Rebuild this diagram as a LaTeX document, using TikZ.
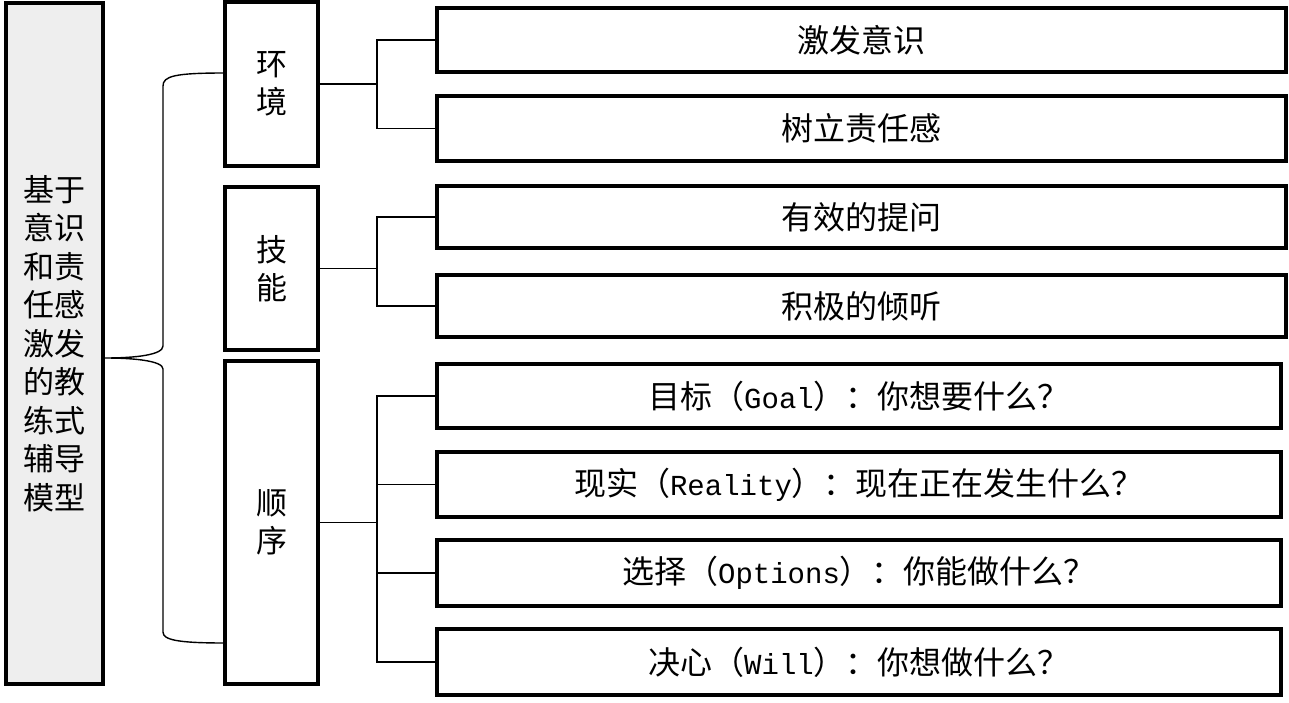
\documentclass[tikz,border=0pt]{standalone}
\usepackage{fontspec}
\setmainfont{Noto Sans CJK SC}
\newfontfamily\latinmono{Liberation Mono}
\newcommand{\lt}[1]{{\latinmono\fontsize{29}{30}\selectfont #1}}
\definecolor{lgray}{HTML}{EEEEEE}
\begin{document}
\begin{tikzpicture}[x=1pt,y=-1pt,
  box/.style={draw, line width=4pt, inner sep=0pt, align=center,
    font=\fontsize{31}{38}\selectfont},
  rbox/.style={box, font=\fontsize{32}{38}\selectfont},
  conn/.style={line width=1.6pt},
  bracepath/.style={line width=1.4pt}]
\useasboundingbox (0,0) rectangle (1289,703);
% left box
\node[box, fill=lgray, minimum width=97pt, minimum height=681pt,
  font=\fontsize{31}{38.5}\selectfont] (L) at (54.5,343.5)
  {基于\\意识\\和责\\任感\\激发\\的教\\练式\\辅导\\模型};
% middle boxes
\node[box, minimum width=93pt, minimum height=164pt] (env) at (271.5,84) {环\\境};
\node[box, minimum width=93pt, minimum height=163pt] (skill) at (271.5,268.5) {技\\能};
\node[box, minimum width=93pt, minimum height=323pt] (order) at (271.5,522.5) {顺\\序};
% right boxes
\node[rbox, minimum width=849pt, minimum height=64pt] (r1) at (861.5,40) {激发意识};
\node[rbox, minimum width=849pt, minimum height=65pt] (r2) at (861.5,128.5) {树立责任感};
\node[rbox, minimum width=849pt, minimum height=62pt] (r3) at (861.5,217) {有效的提问};
\node[rbox, minimum width=849pt, minimum height=62pt] (r4) at (861.5,306) {积极的倾听};
\node[rbox, minimum width=844pt, minimum height=64pt] (r5) at (859,396) {目标（\lt{Goal}）：你想要什么？};
\node[rbox, minimum width=844pt, minimum height=65pt] (r6) at (859,484.5) {现实（\lt{Reality}）：现在正在发生什么？};
\node[rbox, minimum width=844pt, minimum height=66pt] (r7) at (859,573) {选择（\lt{Options}）：你能做什么？};
\node[rbox, minimum width=844pt, minimum height=66pt] (r8) at (859,662) {决心（\lt{Will}）：你想做什么？};
% connectors
\coordinate (j1) at (377,84);
\coordinate (j2) at (377,268.5);
\coordinate (j3) at (377,522.5);
\draw[conn] (env.east) -- (j1);
\draw[conn] (j1) |- (r1.west);
\draw[conn] (j1) |- (r2.west);
\draw[conn] (skill.east) -- (j2);
\draw[conn] (j2) |- (r3.west);
\draw[conn] (j2) |- (r4.west);
\draw[conn] (order.east) -- (j3);
\draw[conn] (j3) |- (r5.west);
\draw[conn] (j3) |- (r6.west);
\draw[conn] (j3) |- (r7.west);
\draw[conn] (j3) |- (r8.west);
% brace
\coordinate (bt) at (225,73);
\coordinate (bb) at (225,643);
\coordinate (tip) at (105,358);
\draw[bracepath] (bt) .. controls (175,73) and (163,76) .. (163,86)
  -- (163,346) .. controls (163,355) and (135,358) .. (tip)
  .. controls (135,358) and (163,361) .. (163,369)
  -- (163,632) .. controls (163,640) and (178,643) .. (bb);
\end{tikzpicture}
\end{document}
